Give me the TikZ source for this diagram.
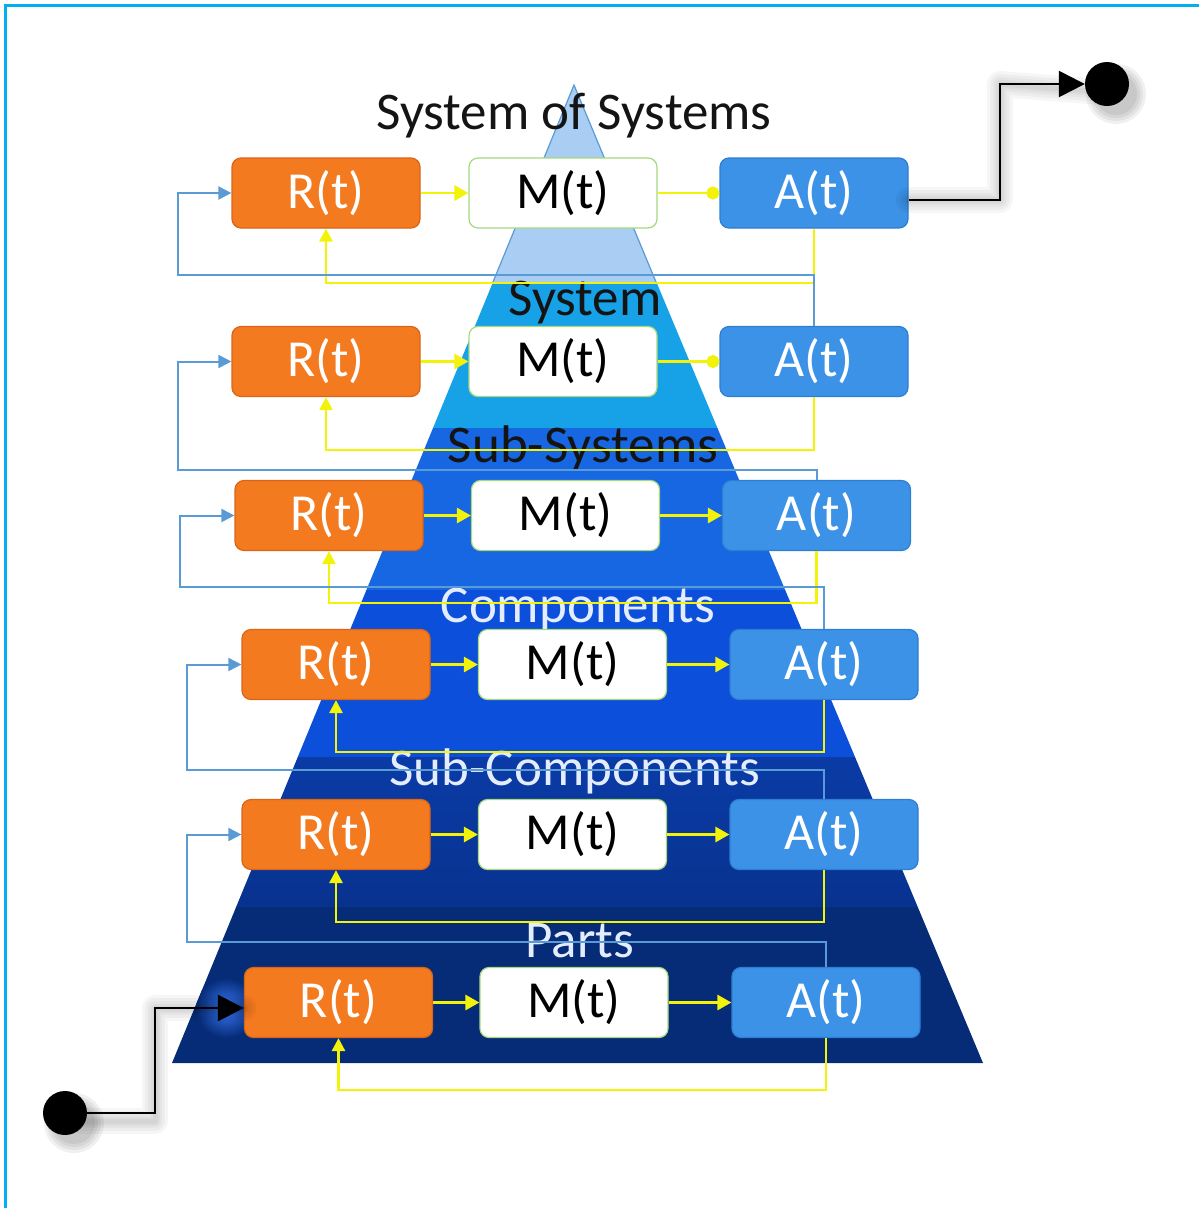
\documentclass[tikz,border=0pt]{standalone}
\usepackage{fontspec}
\setmainfont{Carlito}
\usetikzlibrary{arrows.meta,calc}

\definecolor{framecyan}{HTML}{00B0F0}
\definecolor{bandA}{HTML}{A9CDF3}
\definecolor{bandAedge}{HTML}{5B9BD5}
\definecolor{bandB}{HTML}{17A2E8}
\definecolor{bandC}{HTML}{1766E2}
\definecolor{bandD}{HTML}{0B4FDA}
\definecolor{bandE}{HTML}{0A3BA6}
\definecolor{bandEb}{HTML}{08328F}
\definecolor{bandF}{HTML}{062C78}
\definecolor{glowblue}{HTML}{3A78F5}
\definecolor{rorange}{HTML}{F47A20}
\definecolor{rorangedark}{HTML}{DA6518}
\definecolor{ablue}{HTML}{3C92E6}
\definecolor{abluedark}{HTML}{2F7ED2}
\definecolor{mgreen}{HTML}{A6D97E}
\definecolor{yline}{HTML}{F2F20A}
\definecolor{bline}{HTML}{5B9BD5}
\definecolor{lightlabel}{HTML}{E4EDFF}

\begin{document}
\begin{tikzpicture}[x=1pt,y=-1pt,
  box/.style={rounded corners=9pt, minimum width=188pt, minimum height=70pt,
    inner sep=0pt, font=\fontsize{52}{60}\selectfont, line width=1.2pt},
  rbox/.style={box, fill=rorange, draw=rorangedark, text=white},
  mbox/.style={box, fill=white, draw=mgreen, text=black},
  abox/.style={box, fill=ablue, draw=abluedark, text=white},
  lvl/.style={font=\fontsize{53}{60}\selectfont, anchor=base, inner sep=0pt},
  darklvl/.style={lvl, text=black!92},
  lightlvl/.style={lvl, text=lightlabel},
  flow/.style={draw=yline, line width=2.8pt, -{Triangle[length=14pt,width=15pt]}},
  flowdot/.style={draw=yline, line width=2.8pt, -{Circle[length=13pt,width=13pt]}},
  fbyellow/.style={draw=yline, line width=2.8pt, -{Triangle[length=13pt,width=13pt]}},
  fbblue/.style={draw=bline, line width=2pt, -{Triangle[length=13pt,width=13pt]}},
  blk/.style={draw=black, line width=2.5pt, -{Triangle[length=26pt,width=26pt]}},
  blkshadow/.style={draw=black, line width=#1, opacity=0.035, xshift=7pt, yshift=-8pt,
    line join=round, line cap=round},
  dot/.style={circle, fill=black, minimum size=44pt, inner sep=0pt},
]
\useasboundingbox (0,0) rectangle (1199,1208);

% frame lines along the top and left edges
\draw[framecyan, line width=3pt] (5,1210) -- (5,5) -- (1201,5);

% layered pyramid
\begin{scope}
  \clip (574,85) -- (983,1063) -- (172,1063) -- cycle;
  \fill[bandA] (100,60) rectangle (1100,282);
  \fill[bandB] (100,282) rectangle (1100,428);
  \fill[bandC] (100,428) rectangle (1100,590);
  \fill[bandD] (100,590) rectangle (1100,757);
  \shade[top color=bandE, bottom color=bandEb] (100,757) rectangle (1100,907);
  \fill[bandF] (100,907) rectangle (1100,1070);
  % glow behind the entry arrow
  \shade[inner color=glowblue, outer color=bandF] (226,1008) circle (30);
\end{scope}
\draw[bandAedge, line width=1.2pt] (493,282) -- (574,85) -- (656,282);

% level names
\node[darklvl] (lSoS)  at (574,129) {System of Systems};
\node[darklvl] (lSys)  at (585,315) {System};
\node[darklvl] (lSub)  at (583,462) {Sub-Systems};
\node[lightlvl] (lCmp) at (578,622) {Components};
\node[lightlvl] (lSCp) at (575,785) {Sub-Components};
\node[lightlvl] (lPrt) at (580,957) {Parts};

% R / M / A blocks, one row per level
\node[rbox] (R1) at (326,193)   {R(t)};
\node[mbox] (M1) at (563,193)   {M(t)};
\node[abox] (A1) at (814,193)   {A(t)};
\node[rbox] (R2) at (326,361.5) {R(t)};
\node[mbox] (M2) at (563,361.5) {M(t)};
\node[abox] (A2) at (814,361.5) {A(t)};
\node[rbox] (R3) at (329,515.5) {R(t)};
\node[mbox] (M3) at (565.5,515.5) {M(t)};
\node[abox] (A3) at (816.5,515.5) {A(t)};
\node[rbox] (R4) at (336,664.5) {R(t)};
\node[mbox] (M4) at (572.5,664.5) {M(t)};
\node[abox] (A4) at (824,664.5) {A(t)};
\node[rbox] (R5) at (336,834.5) {R(t)};
\node[mbox] (M5) at (572.5,834.5) {M(t)};
\node[abox] (A5) at (824,834.5) {A(t)};
\node[rbox] (R6) at (338.5,1002.5) {R(t)};
\node[mbox] (M6) at (574,1002.5) {M(t)};
\node[abox] (A6) at (826,1002.5) {A(t)};

% forward flow in each row
\draw[flow]    (R1) -- (M1);  \draw[flowdot] (M1) -- (A1);
\draw[flow]    (R2) -- (M2);  \draw[flowdot] (M2) -- (A2);
\draw[flow]    (R3) -- (M3);  \draw[flow]    (M3) -- (A3);
\draw[flow]    (R4) -- (M4);  \draw[flow]    (M4) -- (A4);
\draw[flow]    (R5) -- (M5);  \draw[flow]    (M5) -- (A5);
\draw[flow]    (R6) -- (M6);  \draw[flow]    (M6) -- (A6);

% local feedback: A back to R of the same level
\coordinate (y1) at (R1.south |- 0,283);
\coordinate (y2) at (R2.south |- 0,450);
\coordinate (y3) at (R3.south |- 0,603);
\coordinate (y4) at (R4.south |- 0,752);
\coordinate (y5) at (R5.south |- 0,922);
\coordinate (y6) at (R6.south |- 0,1090);
\draw[fbyellow] (A1.south) |- (y1) -- (R1.south);
\draw[fbyellow] (A2.south) |- (y2) -- (R2.south);
\draw[fbyellow] (A3.south) |- (y3) -- (R3.south);
\draw[fbyellow] (A4.south) |- (y4) -- (R4.south);
\draw[fbyellow] (A5.south) |- (y5) -- (R5.south);
\draw[fbyellow] (A6.south) |- (y6) -- (R6.south);

% upward feedback: A of a level into R of the level above
\coordinate (b1) at (178,275);
\coordinate (b2) at (178,470);
\coordinate (b3) at (180,587);
\coordinate (b4) at (187,770);
\coordinate (b5) at (187,942);
\draw[fbblue] (A2.north) |- (b1) |- (R1.west);
\draw[fbblue] (A3.north) |- (b2) |- (R2.west);
\draw[fbblue] (A4.north) |- (b3) |- (R3.west);
\draw[fbblue] (A5.north) |- (b4) |- (R4.west);
\draw[fbblue] (A6.north) |- (b5) |- (R5.west);

% system entry and exit
\coordinate (inbend) at (155,1008);
\coordinate (outbend) at (1000,84);
\coordinate (outstart) at ($(A1.east)+(0,7)$);

% soft shadows
\foreach \w in {26pt,20pt,14pt,9pt,5pt}{
  \draw[blkshadow=\w] (75,1113) -| (inbend) -- (inbend -| R6.west);
  \draw[blkshadow=\w] (outstart) -| (outbend) -- (1095,84);
}
\foreach \r in {30,27,24,21}{
  \fill[black, opacity=0.06] (74,1123) circle (\r);
  \fill[black, opacity=0.06] (1116,94) circle (\r);
}

\node[dot] (in)  at (65,1113) {};
\node[dot] (out) at (1107,84) {};
\draw[blk] (in.east) -| (inbend) -- (inbend -| R6.west);
\draw[blk] (outstart) -| (outbend) -- (out.west);
\end{tikzpicture}
\end{document}
